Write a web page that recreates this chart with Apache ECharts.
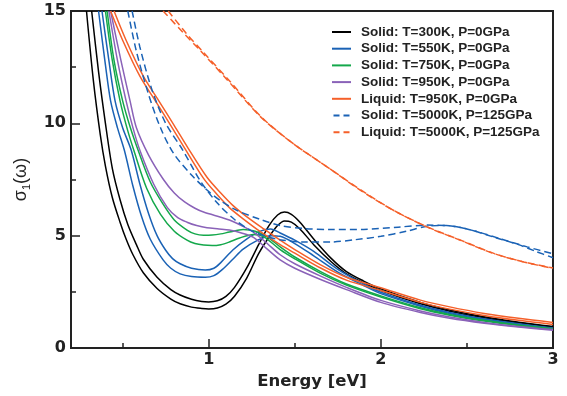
<!DOCTYPE html>
<html>
<head>
<meta charset="utf-8">
<script src="https://cdn.jsdelivr.net/npm/echarts@6/dist/echarts.min.js"></script>
<style>
html,body{margin:0;padding:0;background:#fff;}
#chart{width:567px;height:396px;}
</style>
</head>
<body>
<div id="chart"></div>
<script>
// Legend / condition names
const conditionNames = [
  'Solid: T=300K, P=0GPa',
  'Solid: T=550K, P=0GPa',
  'Solid: T=750K, P=0GPa',
  'Solid: T=950K, P=0GPa',
  'Liquid: T=950K, P=0GPa',
  'Solid: T=5000K, P=125GPa',
  'Liquid: T=5000K, P=125GPa'
];
const xTickValues = [1, 2, 3];
const xMinorTickValues = [0.5, 1.5, 2.5];

// Each condition is drawn as two curves (a, b): [energy eV, sigma1]
const solid300_a = [[0.32,15],[0.36,12.3],[0.40,10.0],[0.44,8.0],[0.485,6.6],[0.53,5.5],[0.58,4.6],[0.62,3.95],[0.70,3.15],[0.78,2.6],[0.834,2.36],[0.90,2.17],[0.96,2.07],[1.0,2.05],[1.05,2.1],[1.1,2.3],[1.15,2.7],[1.22,3.55],[1.29,4.6],[1.35,5.45],[1.40,5.92],[1.44,6.05],[1.48,5.95],[1.53,5.6],[1.61,4.85],[1.71,4.0],[1.80,3.4],[1.90,2.98],[2.0,2.63],[2.23,2.03],[2.4,1.69],[2.6,1.39],[2.8,1.15],[3.0,0.96]];
const solid300_b = [[0.29,15],[0.33,11.9],[0.37,9.5],[0.40,8.1],[0.44,6.7],[0.485,5.6],[0.52,4.85],[0.56,4.15],[0.62,3.35],[0.70,2.65],[0.78,2.18],[0.834,1.97],[0.90,1.82],[0.96,1.76],[1.0,1.74],[1.05,1.78],[1.1,1.95],[1.15,2.3],[1.22,3.1],[1.29,4.2],[1.36,5.05],[1.40,5.45],[1.44,5.65],[1.48,5.6],[1.53,5.3],[1.61,4.6],[1.71,3.85],[1.80,3.3],[1.90,2.9],[2.0,2.56],[2.23,1.97],[2.4,1.64],[2.6,1.35],[2.8,1.12],[3.0,0.93]];
const solid550_a = [[0.38,15],[0.42,12.8],[0.456,11],[0.50,9.8],[0.55,8.8],[0.60,7.3],[0.65,6.0],[0.70,5.0],[0.75,4.35],[0.79,3.98],[0.834,3.75],[0.90,3.55],[0.98,3.47],[1.03,3.55],[1.07,3.8],[1.14,4.36],[1.22,4.85],[1.30,5.2],[1.36,5.3],[1.415,5.12],[1.5,4.8],[1.61,4.3],[1.75,3.5],[1.9,2.85],[2.0,2.48],[2.23,1.9],[2.4,1.58],[2.6,1.3],[2.8,1.08],[3.0,0.89]];
const solid550_b = [[0.36,15],[0.40,12.6],[0.43,11],[0.47,9.8],[0.51,8.8],[0.56,7.2],[0.61,5.85],[0.66,4.85],[0.735,3.92],[0.78,3.55],[0.834,3.3],[0.90,3.18],[0.98,3.15],[1.03,3.22],[1.08,3.5],[1.14,3.95],[1.2,4.4],[1.28,4.78],[1.36,5.0],[1.415,4.97],[1.5,4.65],[1.61,4.1],[1.75,3.38],[1.9,2.78],[2.0,2.42],[2.23,1.86],[2.4,1.54],[2.6,1.27],[2.8,1.06],[3.0,0.87]];
const solid750_a = [[0.41,15],[0.45,12.8],[0.50,11],[0.545,9.8],[0.59,8.8],[0.66,7.4],[0.735,6.4],[0.80,5.7],[0.874,5.25],[0.92,5.08],[0.97,5.02],[1.02,5.03],[1.07,5.08],[1.12,5.16],[1.2,5.27],[1.27,5.2],[1.34,4.95],[1.415,4.5],[1.5,4.05],[1.65,3.4],[1.8,2.85],[2.0,2.32],[2.23,1.79],[2.4,1.49],[2.6,1.23],[2.8,1.02],[3.0,0.86]];
const solid750_b = [[0.40,15],[0.44,12.8],[0.485,11],[0.525,9.8],[0.565,8.8],[0.64,7.1],[0.72,5.95],[0.80,5.2],[0.874,4.8],[0.92,4.65],[0.97,4.58],[1.02,4.56],[1.07,4.6],[1.12,4.72],[1.18,4.9],[1.26,5.05],[1.32,4.95],[1.415,4.38],[1.5,3.97],[1.65,3.32],[1.8,2.8],[2.0,2.27],[2.23,1.75],[2.4,1.46],[2.6,1.2],[2.8,1.0],[3.0,0.84]];
const solid950_a = [[0.43,15],[0.49,12.8],[0.543,11],[0.58,9.8],[0.65,8.6],[0.737,7.5],[0.80,6.9],[0.86,6.5],[0.92,6.22],[0.97,6.05],[1.07,5.82],[1.12,5.7],[1.19,5.45],[1.26,5.16],[1.34,4.65],[1.415,4.15],[1.5,3.75],[1.65,3.2],[1.8,2.7],[2.0,2.12],[2.23,1.65],[2.4,1.38],[2.6,1.14],[2.8,0.96],[3.0,0.82]];
const solid950_b = [[0.42,15],[0.47,12.8],[0.52,11],[0.56,9.8],[0.60,8.8],[0.68,7.3],[0.76,6.25],[0.82,5.8],[0.874,5.6],[0.93,5.45],[0.99,5.35],[1.06,5.3],[1.12,5.25],[1.19,5.12],[1.26,4.92],[1.34,4.4],[1.415,3.92],[1.5,3.55],[1.65,3.05],[1.8,2.6],[2.0,2.03],[2.23,1.58],[2.4,1.32],[2.6,1.1],[2.8,0.93],[3.0,0.79]];
const liquid950_a = [[0.45,15],[0.52,13.7],[0.62,12.1],[0.71,11.0],[0.80,9.9],[0.88,8.9],[0.99,7.6],[1.07,6.9],[1.14,6.35],[1.22,5.85],[1.32,5.3],[1.415,4.8],[1.5,4.38],[1.65,3.7],[1.8,3.15],[2.0,2.68],[2.23,2.13],[2.4,1.83],[2.6,1.54],[2.8,1.32],[3.0,1.14]];
const liquid950_b = [[0.43,15],[0.50,13.7],[0.60,12.1],[0.69,11.0],[0.78,9.9],[0.86,8.9],[0.97,7.55],[1.05,6.82],[1.12,6.25],[1.2,5.75],[1.3,5.18],[1.415,4.6],[1.5,4.22],[1.65,3.56],[1.8,3.02],[2.0,2.56],[2.23,2.03],[2.4,1.73],[2.6,1.45],[2.8,1.23],[3.0,1.05]];
const solid5000_a = [[0.53,15],[0.58,13.2],[0.65,11.3],[0.72,9.8],[0.795,8.67],[0.90,7.7],[0.99,7.03],[1.07,6.55],[1.16,6.14],[1.3,5.72],[1.415,5.45],[1.55,5.32],[1.71,5.27],[1.9,5.28],[2.1,5.38],[2.27,5.47],[2.42,5.42],[2.55,5.2],[2.7,4.85],[2.85,4.5],[3.0,4.2]];
const solid5000_b = [[0.555,15],[0.60,13.4],[0.67,11.5],[0.75,10.0],[0.85,8.8],[0.95,7.45],[1.05,6.45],[1.15,5.72],[1.24,5.25],[1.33,4.98],[1.415,4.82],[1.55,4.72],[1.71,4.72],[1.85,4.82],[2.0,4.97],[2.15,5.2],[2.27,5.42],[2.38,5.45],[2.5,5.3],[2.65,4.95],[2.8,4.6],[2.9,4.3],[3.0,4.02]];
const liquid5000_a = [[0.735,15],[0.85,14.05],[0.95,13.25],[1.1,12.0],[1.3,10.3],[1.49,9.1],[1.69,8.05],[1.88,7.03],[2.07,6.14],[2.27,5.38],[2.46,4.8],[2.65,4.22],[2.82,3.85],[3.0,3.56]];
const liquid5000_b = [[0.765,15],[0.87,14.0],[0.97,13.15],[1.12,11.9],[1.31,10.25],[1.5,9.05],[1.7,8.0],[1.89,7.0],[2.08,6.1],[2.28,5.36],[2.47,4.78],[2.66,4.2],[2.83,3.83],[3.0,3.54]];

const curveSets = [
  [solid300_a, solid300_b],
  [solid550_a, solid550_b],
  [solid750_a, solid750_b],
  [solid950_a, solid950_b],
  [liquid950_a, liquid950_b],
  [solid5000_a, solid5000_b],
  [liquid5000_a, liquid5000_b]
];
const colors = ['#000000', '#1a62b5', '#14a84b', '#8a62b8', '#f5602a', '#1a62b5', '#f5602a'];
const dashed = [false, false, false, false, false, true, true];

const series = [];
curveSets.forEach((pair, i) => {
  pair.forEach(d => {
    series.push({
      name: conditionNames[i],
      type: 'line',
      data: d,
      symbol: 'none',
      smooth: 0.3,
      xAxisIndex: 0,
      lineStyle: { color: colors[i], width: 1.5, type: dashed[i] ? [7, 4] : 'solid' },
      itemStyle: { color: colors[i] },
      z: 2 + i
    });
  });
});

const solidIcon = 'path://M0,0H19V2H0Z';
const dashIcon = 'path://M0,0H6V2H0Z M10,0H16V2H10Z';
const legendItems = conditionNames.map((n, i) => ({ name: n, icon: dashed[i] ? dashIcon : solidIcon }));

const axisFont = 'DejaVu Sans';
const chart = echarts.init(document.getElementById('chart'), null, { renderer: 'canvas' });
chart.setOption({
  animation: false,
  backgroundColor: '#fff',
  grid: { left: 71, right: 14, top: 11, bottom: 48, show: true, borderColor: '#222', borderWidth: 2, backgroundColor: 'transparent' },
  legend: {
    orient: 'vertical',
    left: 327,
    top: 20,
    itemWidth: 19,
    itemHeight: 2,
    itemGap: 2.7,
    data: legendItems,
    textStyle: { fontFamily: 'Liberation Sans', fontWeight: 'bold', fontSize: 13.5, color: '#222', lineHeight: 14, padding: [0, 0, 0, 5] }
  },
  xAxis: [
    {
      type: 'value', min: 0.2, max: 3, position: 'bottom',
      axisLine: { show: true, lineStyle: { color: '#222', width: 2 } },
      axisTick: { show: true, inside: true, length: 9, customValues: xTickValues, lineStyle: { color: '#222', width: 1.5 } },
      axisLabel: { customValues: xTickValues, fontFamily: axisFont, fontWeight: 'bold', fontSize: 16, color: '#222', margin: 4 },
      splitLine: { show: false },
      name: 'Energy [eV]', nameLocation: 'middle', nameGap: 23,
      nameTextStyle: { fontFamily: axisFont, fontWeight: 'bold', fontSize: 16.5, color: '#222' }
    },
    {
      type: 'value', min: 0.2, max: 3, position: 'bottom',
      axisLine: { show: false },
      axisTick: { show: true, inside: true, length: 5, customValues: xMinorTickValues, lineStyle: { color: '#222', width: 1.5 } },
      axisLabel: { show: false },
      splitLine: { show: false }
    }
  ],
  yAxis: {
    type: 'value', min: 0, max: 15, interval: 5,
    axisLine: { show: true, lineStyle: { color: '#222', width: 2 } },
    axisTick: { show: true, inside: true, length: 9, lineStyle: { color: '#222', width: 1.5 } },
    minorTick: { show: true, splitNumber: 2, length: 5, lineStyle: { color: '#222', width: 1.5 } },
    axisLabel: { fontFamily: axisFont, fontWeight: 'bold', fontSize: 16, color: '#222', margin: 5 },
    splitLine: { show: false },
    name: '{s|σ}{sub|1}{s|(ω)}',
    nameLocation: 'middle', nameGap: 35, nameRotate: 90,
    nameTextStyle: {
      rich: {
        s: { fontFamily: 'Liberation Sans', fontSize: 18, color: '#222', lineHeight: 22, verticalAlign: 'bottom' },
        sub: { fontFamily: 'Liberation Sans', fontSize: 11, color: '#222', lineHeight: 22, verticalAlign: 'bottom', padding: [0, 0, -3, 0] }
      }
    }
  },
  series: series
});
</script>
</body>
</html>
